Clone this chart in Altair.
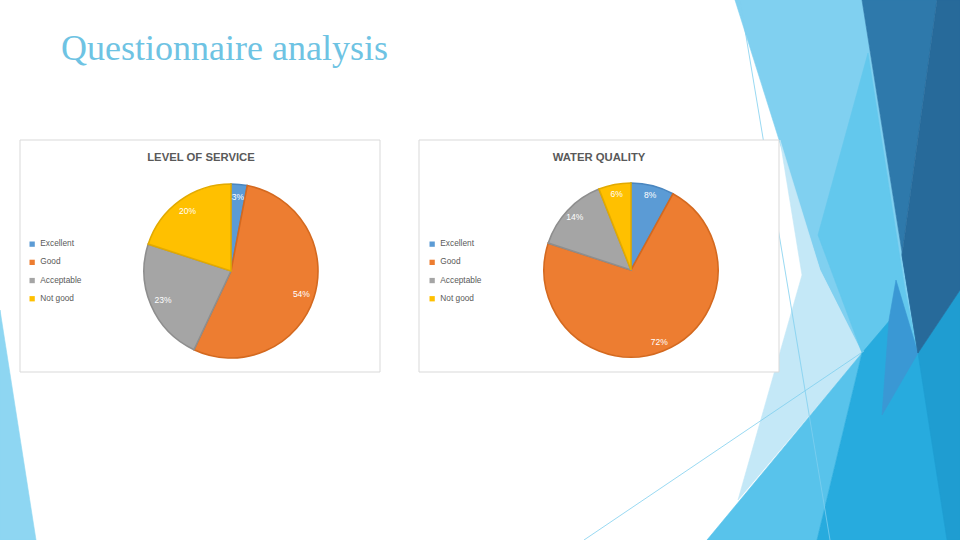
import altair as alt
import pandas as pd

# ---------------- data ----------------
categories = ["Excellent", "Good", "Acceptable", "Not good"]
service_values = [3, 54, 23, 20]
water_values = [8, 72, 14, 6]
service_labels = ["3%", "54%", "23%", "20%"]
water_labels = ["8%", "72%", "14%", "6%"]
page_title = ["Questionnaire analysis"]
chart_titles = ["LEVEL OF SERVICE", "WATER QUALITY"]

slice_colors = ["#5B9BD5", "#ED7D31", "#A5A5A5", "#FFC000"]
slice_edges = ["#4A86BF", "#D4691F", "#8E8E8E", "#E2AA00"]

# decorative slide background (theme facets), pixel polygons, back to front
decor_shapes = [
    ("#8ED6F2", [(0, 310), (36, 540), (0, 540)]),
    ("#80D0F0", [(735, 0), (862, 0), (918, 353), (862, 353), (820, 270)]),
    ("#C4E8F7", [(780, 140), (820, 270), (862, 353), (738, 500), (802, 275)]),
    ("#63C8ED", [(868, 53), (905, 290), (918, 353), (862, 353), (818, 235)]),
    ("#58C3EB", [(707, 540), (862, 353), (817, 540)]),
    ("#27ABDE", [(862, 353), (890, 320), (918, 353), (960, 290), (960, 540), (817, 540)]),
    ("#1F9DD1", [(918, 353), (960, 290), (960, 540), (947, 540)]),
    ("#3A98D4", [(896, 280), (918, 353), (882, 415), (889, 320)]),
    ("#2E79AB", [(862, 0), (937, 0), (902, 255), (918, 353)]),
    ("#276A9A", [(937, 0), (960, 0), (960, 290), (918, 353), (902, 255)]),
]

# thin accent lines (x1, y1, x2, y2)
decor_lines = [(740, 0, 830, 540), (584, 540, 864, 351)]

features = []
for col, pts in decor_shapes:
    ring = [list(p) for p in pts] + [list(pts[0])]
    features.append({"type": "Feature", "properties": {"fill": col},
                     "geometry": {"type": "Polygon", "coordinates": [ring]}})

geo = alt.Chart(alt.Data(values=features)).mark_geoshape(strokeWidth=0.6).encode(
    fill=alt.Fill("properties.fill:N", scale=None),
    stroke=alt.Stroke("properties.fill:N", scale=None),
).project(type="identity", scale=1, translate=[0, 0])

one = pd.DataFrame({"a": [0]})
line_layers = [
    alt.Chart(one).mark_rule(color="#7FCFEF", strokeWidth=0.8).encode(
        x=alt.value(a), y=alt.value(b), x2=alt.value(c), y2=alt.value(d))
    for a, b, c, d in decor_lines
]

box1 = alt.Chart(one).mark_rect(fill="white", stroke="#D9D9D9", strokeWidth=1).encode(
    x=alt.value(20), x2=alt.value(380), y=alt.value(140), y2=alt.value(372))
box2 = alt.Chart(one).mark_rect(fill="white", stroke="#D9D9D9", strokeWidth=1).encode(
    x=alt.value(419), x2=alt.value(779), y=alt.value(140), y2=alt.value(372))

title_txt = alt.Chart(pd.DataFrame({"t": page_title})).mark_text(
    font="Liberation Serif", fontSize=36, color="#6EC3E3", align="left", baseline="alphabetic"
).encode(text="t:N", x=alt.value(61), y=alt.value(60))

t1 = alt.Chart(pd.DataFrame({"t": [chart_titles[0]]})).mark_text(
    font="Liberation Sans", fontSize=11.3, fontWeight="bold", color="#595959", baseline="middle"
).encode(text="t:N", x=alt.value(201), y=alt.value(158))
t2 = alt.Chart(pd.DataFrame({"t": [chart_titles[1]]})).mark_text(
    font="Liberation Sans", fontSize=11.3, fontWeight="bold", color="#595959", baseline="middle"
).encode(text="t:N", x=alt.value(599), y=alt.value(158))


def pie(values, labels, cx, cy, lx, lr):
    df = pd.DataFrame({"cat": categories, "value": values, "label": labels,
                       "ord": list(range(len(categories)))})
    base = alt.Chart(df).encode(
        theta=alt.Theta("value:Q", stack=True),
        order=alt.Order("ord:Q"),
    )
    arc = base.mark_arc(outerRadius=87, strokeWidth=1.6).encode(
        x=alt.value(cx), y=alt.value(cy),
        color=alt.Color(
            "cat:N", sort=categories,
            scale=alt.Scale(domain=categories, range=slice_colors),
            legend=alt.Legend(title=None, orient="none", legendX=lx, legendY=240,
                              symbolType="square", symbolSize=28, symbolStrokeWidth=0,
                              labelFontSize=8.3, labelColor="#595959", labelFont="Liberation Sans",
                              rowPadding=9.2, padding=0, labelOffset=4),
        ),
        stroke=alt.Stroke("cat:N", sort=categories,
                          scale=alt.Scale(domain=categories, range=slice_edges), legend=None),
    )
    text = base.mark_text(radius=lr, fontSize=8.5, color="white", font="Liberation Sans").encode(
        x=alt.value(cx), y=alt.value(cy), text="label:N")
    return arc, text


arc1, text1 = pie(service_values, service_labels, 231, 271, 28, 74)
arc2, text2 = pie(water_values, water_labels, 631, 270, 428, 77)

chart = alt.layer(
    geo, *line_layers, box1, box2, title_txt, t1, t2, arc1, text1, arc2, text2
).resolve_scale(
    theta="independent", color="independent", stroke="independent"
).properties(
    width=960, height=540, padding=0, autosize="none", background="white"
).configure_view(stroke=None)

chart.save("out.html", embed_options={"renderer": "svg", "actions": False})
